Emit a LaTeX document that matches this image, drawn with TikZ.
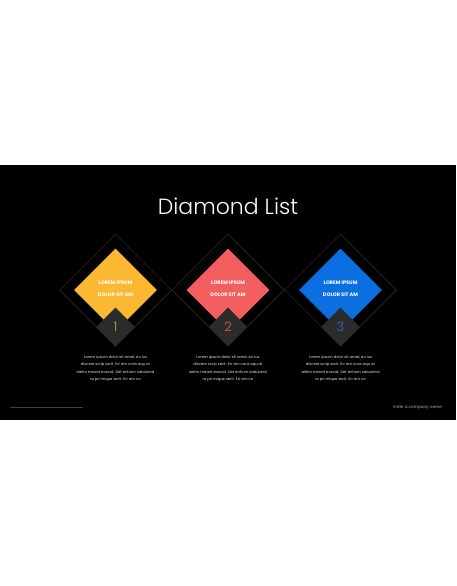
\documentclass[tikz,border=0pt]{standalone}
\usepackage{fontspec}
\setmainfont{Poppins}
\newfontfamily\titlefont{Poppins Light}
\usetikzlibrary{shapes.geometric,positioning}
\definecolor{gold}{HTML}{FBB933}
\definecolor{coral}{HTML}{F35E5E}
\definecolor{azure}{HTML}{0B6FE2}
\definecolor{goldnum}{HTML}{C9A13C}
\definecolor{coralnum}{HTML}{E05D5D}
\definecolor{azurenum}{HTML}{2C6FD1}
\definecolor{tile}{HTML}{2B2B2B}
\definecolor{rim}{HTML}{3A3326}
\definecolor{company}{HTML}{BDBD80}
\tikzstyle{frame}=[diamond,aspect=1,inner sep=0pt,draw=rim,line width=0.5pt,minimum size=112pt]
\tikzstyle{gem}=[diamond,aspect=1,inner sep=0pt,minimum size=83pt]
\tikzstyle{tag}=[diamond,aspect=1,inner sep=0pt,fill=tile,minimum size=39pt]
\tikzstyle{caption}=[text=white,font=\fontsize{5}{5}\selectfont\bfseries,inner sep=0pt]
\tikzstyle{num}=[font=\titlefont\fontsize{13}{13}\selectfont,inner sep=0pt]
\tikzstyle{body}=[text=white!90!black,font=\fontsize{3.7}{7.2}\selectfont,align=center,inner sep=0pt]
\begin{document}
\begin{tikzpicture}[x=1pt,y=-1pt]
\useasboundingbox (0,0) rectangle (456,586);
\fill[white] (0,0) rectangle (456,586);
\fill[black] (0,165) rectangle (456,420);
\node[text=white,font=\titlefont\fontsize{22}{22}\selectfont] (T) at (228,206) {Diamond List};
\node[frame] (F1) at (115.5,290) {};
\node[frame] (F2) at (228,290) {};
\node[frame] (F3) at (340.5,290) {};
\node[gem,fill=gold] (G1) at (115.5,290) {};
\node[gem,fill=coral] (G2) at (228,290) {};
\node[gem,fill=azure] (G3) at (340.5,290) {};
\node[tag] (t1) at (115.5,327) {};
\node[tag] (t2) at (228,327) {};
\node[tag] (t3) at (340.5,327) {};
\node[num,text=goldnum] (n1) at (t1) {1};
\node[num,text=coralnum] (n2) at (t2) {2};
\node[num,text=azurenum] (n3) at (t3) {3};
\node[caption] (a1) at (115.5,282.5) {LOREM IPSUM};
\node[caption] (b1) at (115.5,295) {DOLOR SIT AM};
\node[caption] (a2) at (228,282.5) {LOREM IPSUM};
\node[caption] (b2) at (228,295) {DOLOR SIT AM};
\node[caption] (a3) at (340.5,282.5) {LOREM IPSUM};
\node[caption] (b3) at (340.5,295) {DOLOR SIT AM};
\node[body] (d1) at (115.5,368.5) {Lorem ipsum dolor sit amet, eu ius\\discere scrip serit. Err em cons equ at\\aleho meant eoscid. Det entium sabuland\\re pri mique serit. Err em co};
\node[body] (d2) at (228,368.5) {Lorem ipsum dolor sit amet, eu ius\\discere scrip serit. Err em cons equ at\\aleho meant eoscid. Det entium sabuland\\re pri mique serit. Err em co};
\node[body] (d3) at (340.5,368.5) {Lorem ipsum dolor sit amet, eu ius\\discere scrip serit. Err em cons equ at\\aleho meant eoscid. Det entium sabuland\\re pri mique serit. Err em co};
\coordinate (L1) at (10,407.5);
\coordinate (L2) at (83,407.5);
\draw[black!75!white,line width=1pt] (L1) -- (L2);
\node[text=company,font=\fontsize{4.1}{4}\selectfont,anchor=east,inner sep=0pt] (C) at (442,407.5) {Enter a company name};
\end{tikzpicture}
\end{document}
